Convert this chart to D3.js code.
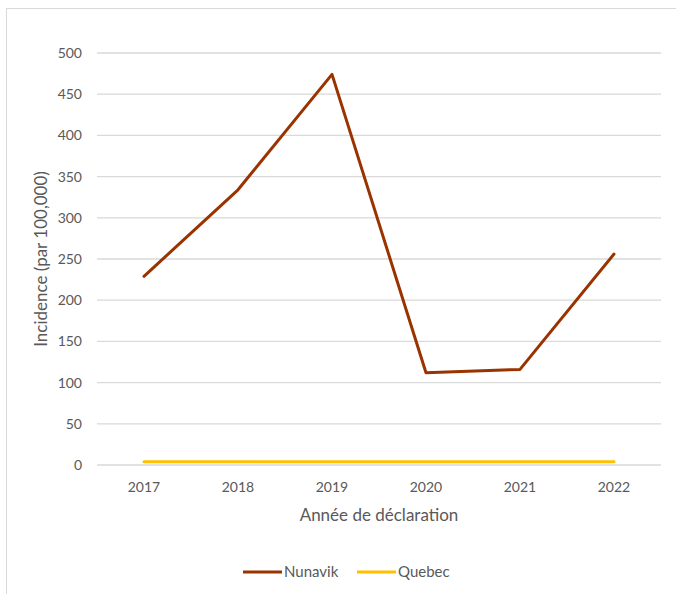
<!DOCTYPE html>
<html>
<head>
<meta charset="utf-8">
<script src="https://cdn.jsdelivr.net/npm/d3@7"></script>
<style>
  body { margin: 0; background: #fff; }
  text { font-family: Lato, "Open Sans", sans-serif; fill: #595959; }
</style>
</head>
<body>
<div id="chart"></div>
<script>
const years = ["2017", "2018", "2019", "2020", "2021", "2022"];
const nunavik = [229, 334, 474, 112, 116, 256];
const quebec = [4, 4, 4, 4, 4, 4];
const yTicks = [0, 50, 100, 150, 200, 250, 300, 350, 400, 450, 500];

const svg = d3.select("#chart")
  .append("svg")
  .attr("width", 676)
  .attr("height", 594);

// chart frame (runs off the right and bottom edge)
svg.append("rect")
  .attr("x", 6.5).attr("y", 8.5)
  .attr("width", 700).attr("height", 620)
  .attr("fill", "none")
  .attr("stroke", "#d9d9d9");

const x = d3.scaleBand()
  .domain(years)
  .range([97, 661]);

const y = d3.scaleLinear()
  .domain([0, 500])
  .range([465, 53]);

// gridlines
svg.append("g")
  .selectAll("line")
  .data(yTicks)
  .join("line")
  .attr("x1", 97).attr("x2", 661)
  .attr("y1", d => y(d)).attr("y2", d => y(d))
  .attr("stroke", "#d9d9d9")
  .attr("stroke-width", 1.3);

// y tick labels
svg.append("g")
  .selectAll("text")
  .data(yTicks)
  .join("text")
  .attr("x", 82)
  .attr("y", d => y(d))
  .attr("dy", "0.35em")
  .attr("text-anchor", "end")
  .style("font-size", "14px")
  .text(d => d);

// x tick labels
svg.append("g")
  .selectAll("text")
  .data(years)
  .join("text")
  .attr("x", d => x(d) + x.bandwidth() / 2)
  .attr("y", 492)
  .attr("text-anchor", "middle")
  .style("font-size", "14px")
  .text(d => d);

// axis titles
svg.append("text")
  .attr("x", 379).attr("y", 521)
  .attr("text-anchor", "middle")
  .style("font-size", "17px")
  .text("Année de déclaration");

svg.append("text")
  .attr("transform", "translate(47,259) rotate(-90)")
  .attr("text-anchor", "middle")
  .style("font-size", "17px")
  .text("Incidence (par 100,000)");

const line = d3.line()
  .x((d, i) => x(years[i]) + x.bandwidth() / 2)
  .y(d => y(d));

const series = [
  { name: "Nunavik", values: nunavik, color: "#993300" },
  { name: "Quebec", values: quebec, color: "#ffc000" }
];

svg.append("g")
  .selectAll("path")
  .data(series)
  .join("path")
  .attr("d", d => line(d.values))
  .attr("fill", "none")
  .attr("stroke", d => d.color)
  .attr("stroke-width", 3)
  .attr("stroke-linejoin", "round")
  .attr("stroke-linecap", "round");

// legend
const legend = svg.append("g")
  .selectAll("g")
  .data(series)
  .join("g")
  .attr("transform", (d, i) => `translate(${243 + i * 114},572)`);

legend.append("line")
  .attr("x1", 0).attr("x2", 39)
  .attr("stroke", d => d.color)
  .attr("stroke-width", 3);

legend.append("text")
  .attr("x", 41)
  .attr("dy", "0.35em")
  .style("font-size", "15px")
  .text(d => d.name);
</script>
</body>
</html>
